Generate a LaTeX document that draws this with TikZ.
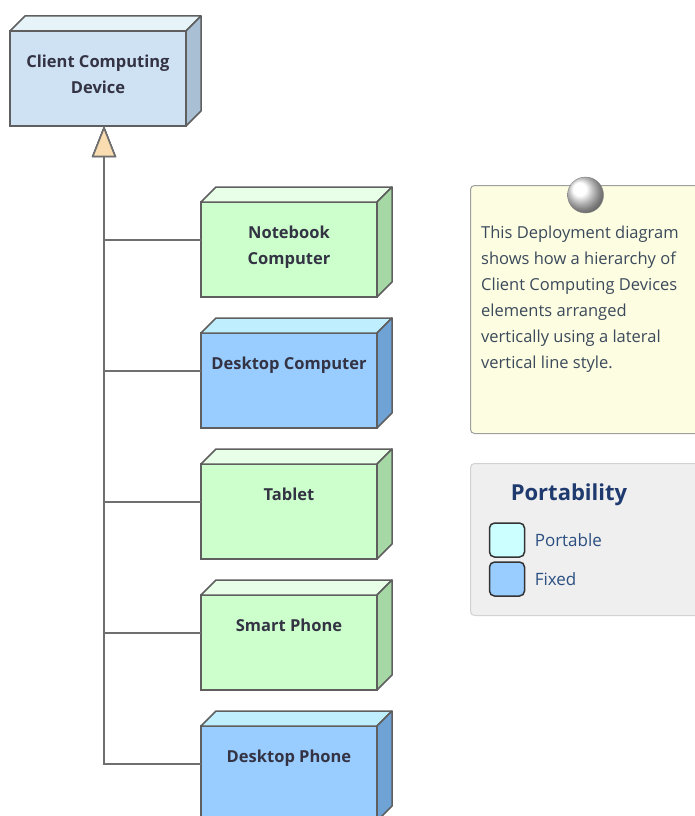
\documentclass[tikz,border=0pt]{standalone}
\usepackage{fontspec}
\setmainfont{Open Sans}
\usetikzlibrary{positioning,calc,arrows.meta}

\definecolor{edge}{HTML}{5F5F5F}
\definecolor{ccdF}{HTML}{CFE2F3}
\definecolor{ccdT}{HTML}{E6F4FA}
\definecolor{ccdS}{HTML}{A9BFD3}
\definecolor{grnF}{HTML}{CCFFCC}
\definecolor{grnT}{HTML}{E8FFE8}
\definecolor{grnS}{HTML}{A6D8A6}
\definecolor{bluF}{HTML}{99CCFF}
\definecolor{bluT}{HTML}{BFEFFF}
\definecolor{bluS}{HTML}{6FA3D6}
\definecolor{peach}{HTML}{F9DDB0}
\definecolor{notefill}{HTML}{FDFDE2}
\definecolor{legfill}{HTML}{EFEFEF}
\definecolor{devtext}{HTML}{333344}
\definecolor{notetext}{HTML}{3B4A5B}
\definecolor{legtitle}{HTML}{1F3A6E}
\definecolor{legtext}{HTML}{2B4F81}
\definecolor{portable}{HTML}{CCFFFF}
\definecolor{fixed}{HTML}{99CCFF}

\tikzset{
  devfront/.style={draw=edge, line width=1.5pt, minimum width=176pt, minimum height=95pt, inner sep=0pt, outer sep=0pt},
  devlabel/.style={text=devtext, font=\fontsize{16.5}{26}\selectfont\bfseries, align=center, inner sep=0pt},
  genline/.style={draw=edge!90, line width=1.5pt},
}

% 3d device box: name, top-left of front face, colour family, label
\newcommand{\devnode}[4]{%
  \node[devfront, fill=#3F, anchor=north west] (#1) at (#2) {};
  \fill[#3T, draw=edge, line width=1.5pt, line join=round] (#1.north west) -- ++(15,15) -- ($(#1.north east)+(15,15)$) -- (#1.north east) -- cycle;
  \fill[#3S, draw=edge, line width=1.5pt, line join=round] (#1.north east) -- ++(15,15) -- ($(#1.south east)+(15,15)$) -- (#1.south east) -- cycle;
  \node[devlabel, below=24pt of #1.north] (#1-txt) {#4};
}

\begin{document}
\begin{tikzpicture}[x=1pt, y=1pt]
    \clip (0,0) rectangle (695,-816);

    \devnode{ccd}{10,-31}{ccd}{Client Computing\\Device}
    \devnode{nb}{201,-202}{grn}{Notebook\\Computer}
    \devnode{dc}{201,-333}{blu}{Desktop Computer}
    \devnode{tab}{201,-464}{grn}{Tablet}
    \devnode{sp}{201,-595}{grn}{Smart Phone}
    \devnode{dp}{201,-726}{blu}{Desktop Phone}

    % generalisation, lateral vertical style
    \coordinate (ccdfoot) at ([xshift=6pt]ccd.south);
    \foreach \child in {nb,dc,tab,sp,dp}
        \draw[genline, -{Triangle[length=31pt, width=24pt, fill=peach, line join=miter]}]
            ([yshift=9.5pt]\child.west) -| (ccdfoot);

    % note
    \node[draw=gray!75, fill=notefill, line width=1pt, rounded corners=4pt,
          minimum width=240pt, minimum height=248pt, anchor=north west] (note) at (470,-185) {};
    \shade[ball color=white, draw=gray] ([xshift=-5pt, yshift=-10pt]note.north) circle (18pt);
    \node[below right=41pt and 11pt of note.north west, anchor=north west, inner sep=0pt,
          text=notetext, align=left, font=\fontsize{16.5}{26}\selectfont] (notetxt)
        {This Deployment diagram\\shows how a hierarchy of\\Client Computing Devices\\elements arranged\\vertically using a lateral\\vertical line style.};

    % legend
    \node[draw=gray!35, fill=legfill, line width=1pt, rounded corners=4pt,
          minimum width=240pt, minimum height=152pt, anchor=north west] (legend) at (470,-463) {};
    \node[text=legtitle, font=\fontsize{22}{26}\selectfont\bfseries] (legtitle) at (569,-495) {Portability};
    \node[draw=black!80, line width=1.5pt, rounded corners=5pt, fill=portable, minimum width=35pt, minimum height=34pt] (swport) at (507,-540) {};
    \node[draw=black!80, line width=1.5pt, rounded corners=5pt, fill=fixed, minimum width=35pt, minimum height=34pt] (swfix) at (507,-579) {};
    \node[right=6pt of swport, text=legtext, font=\fontsize{17}{20}\selectfont] (lportable) {Portable};
    \node[right=6pt of swfix, text=legtext, font=\fontsize{17}{20}\selectfont] (lfixed) {Fixed};
\end{tikzpicture}
\end{document}
